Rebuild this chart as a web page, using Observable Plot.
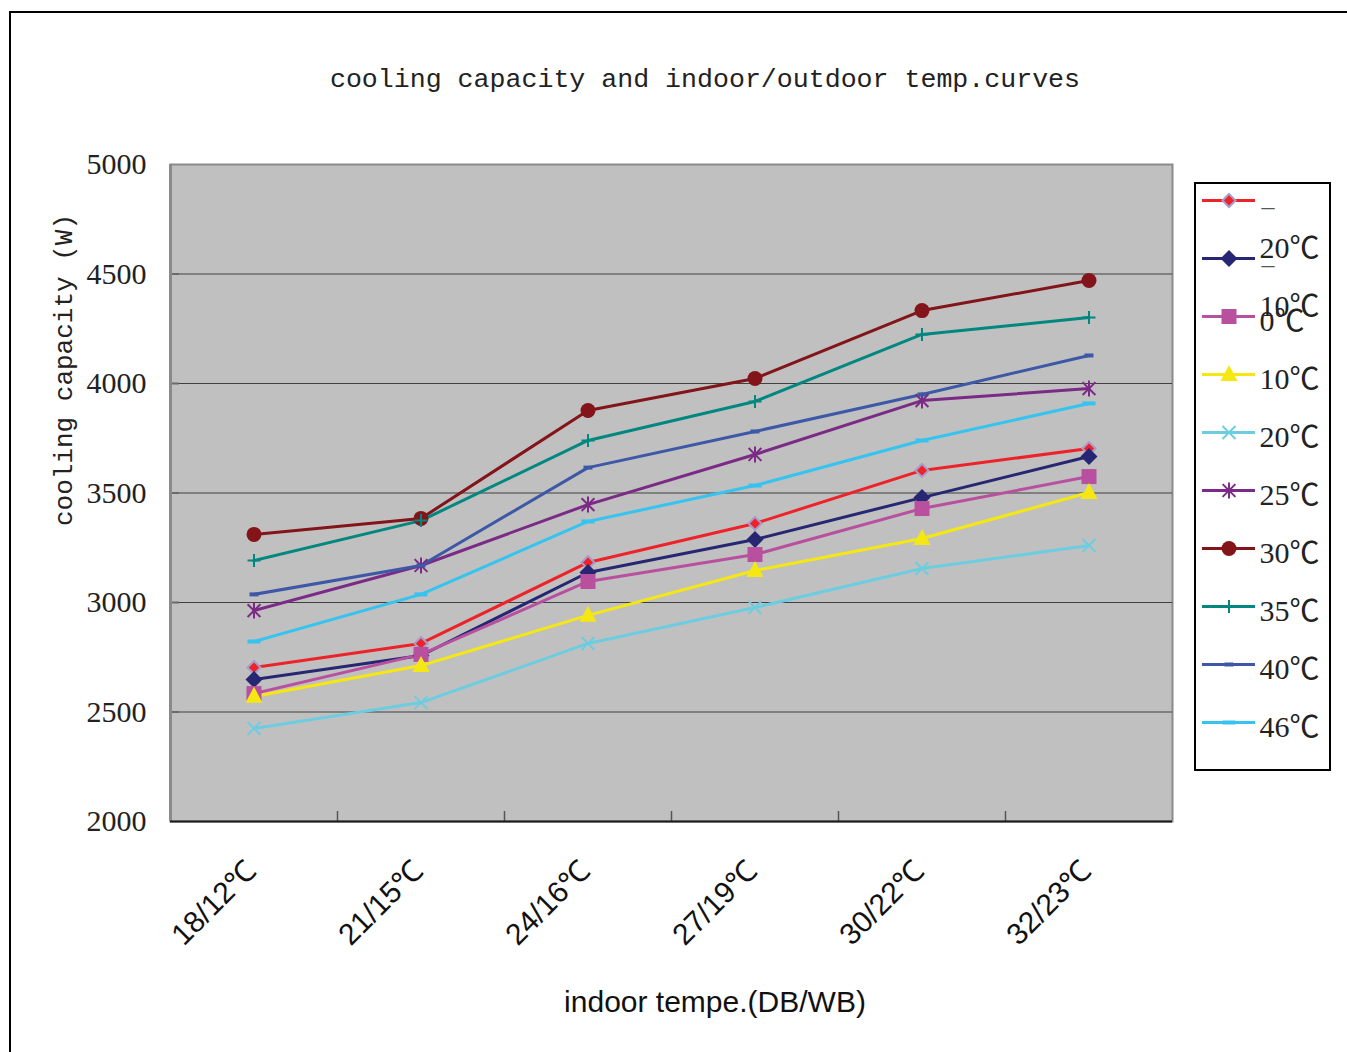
<!DOCTYPE html>
<html>
<head>
<meta charset="utf-8">
<script src="https://cdn.jsdelivr.net/npm/d3@7"></script>
<script src="https://cdn.jsdelivr.net/npm/@observablehq/plot@0.6"></script>
<style>
  html, body { margin: 0; padding: 0; background: #fff; overflow: hidden; }
  #root { position: relative; width: 1347px; height: 1052px; overflow: hidden; background: #fff; }
  #outer { position: absolute; left: 9px; top: 11px; width: 1400px; height: 1100px; border: 2px solid #000; box-sizing: border-box; }
  #title { position: absolute; left: 0; width: 1410px; top: 65px; text-align: center; font-family: "Liberation Mono", monospace; font-size: 26.6px; color: #222; white-space: pre; }
  #ytitle { position: absolute; left: 65px; top: 370px; transform: translate(-50%, -50%) rotate(-90deg); font-family: "Liberation Mono", monospace; font-size: 26px; color: #222; white-space: pre; }
  #xtitle { position: absolute; left: 715px; top: 1002px; transform: translate(-50%, -50%); font-family: "Liberation Sans", Arial, sans-serif; font-size: 30px; color: #111; white-space: pre; }
  #chart { position: absolute; left: 0; top: 0; }
  #legend { position: absolute; left: 1194px; top: 182px; border: 2px solid #000; background: #fff; width: 137px; height: 589px; box-sizing: border-box; }
  #legend svg { position: absolute; left: 0; top: 0; max-width: none !important; }
</style>
</head>
<body>
<div id="root">
  <div id="outer"></div>
  <div id="chart"></div>
  <div id="title">cooling capacity and indoor/outdoor temp.curves</div>
  <div id="ytitle">cooling capacity (W)</div>
  <div id="xtitle">indoor tempe.(DB/WB)</div>
  <div id="legend"></div>
</div>
<script>
// ---- data ----
const categories = ["18/12℃", "21/15℃", "24/16℃", "27/19℃", "30/22℃", "32/23℃"];
const seriesNames = ["-20℃", "-10℃", "0℃", "10℃", "20℃", "25℃", "30℃", "35℃", "40℃", "46℃"];
const sMinus20 = [2703, 2813, 3183, 3361, 3603, 3703];
const sMinus10 = [2648, 2758, 3137, 3288, 3479, 3667];
const s0       = [2584, 2763, 3096, 3219, 3429, 3575];
const s10      = [2571, 2712, 2941, 3146, 3292, 3502];
const s20      = [2425, 2543, 2813, 2977, 3155, 3260];
const s25      = [2963, 3169, 3447, 3676, 3922, 3977];
const s30      = [3311, 3384, 3877, 4023, 4333, 4470];
const s35      = [3192, 3374, 3740, 3918, 4224, 4301];
const s40      = [3037, 3169, 3616, 3781, 3950, 4128];
const s46      = [2822, 3037, 3370, 3534, 3740, 3909];
const yTicks = [2000, 2500, 3000, 3500, 4000, 4500, 5000];

// ---- styles ----
const seriesValues = [sMinus20, sMinus10, s0, s10, s20, s25, s30, s35, s40, s46];
const colors = ["#EE2229", "#262673", "#B9509F", "#F5E812", "#6DCDE0", "#7B2A85", "#82141A", "#00877F", "#3E58A8", "#35C3F0"];

const sym = {
  diamond: a => ({draw(c){ c.moveTo(0,-a); c.lineTo(a,0); c.lineTo(0,a); c.lineTo(-a,0); c.closePath(); }}),
  square: a => ({draw(c){ c.rect(-a/2,-a/2,a,a); }}),
  triangle: (w,h) => ({draw(c){ c.moveTo(0,-h*0.6); c.lineTo(w/2,h*0.4); c.lineTo(-w/2,h*0.4); c.closePath(); }}),
  times: a => ({draw(c){ c.moveTo(-a,-a); c.lineTo(a,a); c.moveTo(a,-a); c.lineTo(-a,a); }}),
  plus: a => ({draw(c){ c.moveTo(-a,0); c.lineTo(a,0); c.moveTo(0,-a); c.lineTo(0,a); }}),
  asterisk: a => ({draw(c){ c.moveTo(0,-a); c.lineTo(0,a); c.moveTo(-a*0.8,-a*0.8); c.lineTo(a*0.8,a*0.8); c.moveTo(a*0.8,-a*0.8); c.lineTo(-a*0.8,a*0.8); }}),
  circle: r => ({draw(c){ c.moveTo(r,0); c.arc(0,0,r,0,2*Math.PI); }}),
  rect: (w,h) => ({draw(c){ c.rect(-w/2,-h/2,w,h); }})
};
const markers = [
  {symbol: sym.diamond(6.5), fill: "#EE2229", stroke: "#A99BC9", strokeWidth: 2},
  {symbol: sym.diamond(8.5), fill: "#262673", stroke: "none"},
  {symbol: sym.square(15), fill: "#B9509F", stroke: "none"},
  {symbol: sym.triangle(17, 16), fill: "#F5E812", stroke: "none"},
  {symbol: sym.times(6.5), fill: "none", stroke: "#6DCDE0", strokeWidth: 2},
  {symbol: sym.asterisk(8), fill: "none", stroke: "#7B2A85", strokeWidth: 2},
  {symbol: sym.circle(7.5), fill: "#82141A", stroke: "none"},
  {symbol: sym.plus(6.5), fill: "none", stroke: "#00877F", strokeWidth: 2},
  {symbol: sym.rect(9, 4), fill: "#3E58A8", stroke: "none"},
  {symbol: sym.rect(13, 4), fill: "#35C3F0", stroke: "none"}
];

const rows = [];
seriesNames.forEach((s, k) => seriesValues[k].forEach((v, i) => rows.push({series: s, k, cat: categories[i], i, v})));

const noText = () => "";
const marks = [
  Plot.frame({fill: "#C0C0C0", stroke: "#8A8A8A", strokeWidth: 2}),
  Plot.ruleY(yTicks.slice(1, -1), {stroke: "#404040", strokeWidth: 1.2}),
  Plot.axisY({ticks: yTicks.slice(1, -1), tickSize: -9, tickFormat: noText, label: null, stroke: "#6a6a6a", strokeWidth: 2}),
  Plot.axisX({ticks: d3.range(categories.length - 1).map(i => i + 0.5), tickSize: -10, tickFormat: noText, label: null, stroke: "#555", strokeWidth: 1.5}),
  Plot.ruleX([-0.5], {stroke: "#8A8A8A", strokeWidth: 3}),
  Plot.ruleY([2000], {stroke: "#1a1a1a", strokeWidth: 2}),
  Plot.text(yTicks, {x: -0.5, y: d => d, text: d => String(d), textAnchor: "end", dx: -24, fontSize: 30, fontFamily: "Liberation Serif, serif", fill: "#222"}),
  Plot.text(categories, {x: (d, i) => i, frameAnchor: "bottom", text: d => d, rotate: -45, textAnchor: "end", dx: 4, dy: 51, fontSize: 30, fontFamily: "Liberation Sans, Arial, sans-serif", fill: "#111"})
];
seriesNames.forEach((s, k) => {
  const data = rows.filter(r => r.k === k);
  marks.push(Plot.line(data, {x: "i", y: "v", stroke: colors[k], strokeWidth: 3}));
});
seriesNames.forEach((s, k) => {
  const data = rows.filter(r => r.k === k);
  const m = markers[k];
  marks.push(Plot.dot(data, {x: "i", y: "v", symbol: m.symbol, r: 5, fill: m.fill, stroke: m.stroke, strokeWidth: m.strokeWidth || 1}));
});

const chart = Plot.plot({
  width: 1347, height: 1052,
  marginLeft: 170, marginRight: 175, marginTop: 164, marginBottom: 231,
  x: {domain: [-0.5, categories.length - 0.5], axis: null},
  y: {domain: [2000, 5000], axis: null},
  style: {background: "transparent", overflow: "visible"},
  marks
});
document.getElementById("chart").appendChild(chart);

// ---- legend ----
const legRows = seriesNames.map((s, k) => ({s, k}));
const wrapped = legRows.filter(d => d.s.startsWith("-"));
const plain = legRows.filter(d => !d.s.startsWith("-"));
const legFont = "Liberation Serif, 'Noto Sans CJK SC', serif";
const legMarks = [
  Plot.ruleY(legRows, {y: "s", x1: 0, x2: 1, stroke: d => colors[d.k], strokeWidth: 3})
];
legRows.forEach(d => {
  const m = markers[d.k];
  legMarks.push(Plot.dot([d], {y: "s", x: 0.5, symbol: m.symbol, r: 5, fill: m.fill, stroke: m.stroke, strokeWidth: m.strokeWidth || 1}));
});
// a leading minus wraps onto its own line, the rest of the label drops to the next line
legMarks.push(Plot.text(wrapped, {y: "s", x: 1, text: d => "–", textAnchor: "start", dx: 6, dy: 6, fontSize: 26, fontFamily: legFont, fill: "#555"}));
legMarks.push(Plot.text(wrapped, {y: "s", x: 1, text: d => d.s.replace(/^-/, ""), textAnchor: "start", dx: 4, dy: 48, fontSize: 30, fontFamily: legFont, fill: "#222"}));
legMarks.push(Plot.text(plain, {y: "s", x: 1, text: "s", textAnchor: "start", dx: 4, dy: 5, fontSize: 30, fontFamily: legFont, fill: "#222"}));

const legend = Plot.plot({
  width: 133, height: 585,
  margin: 0,
  x: {domain: [0, 1], range: [6, 59], axis: null},
  y: {type: "point", domain: seriesNames, range: [12, 541], padding: 0, axis: null},
  style: {background: "transparent", overflow: "visible"},
  marks: legMarks
});
document.getElementById("legend").appendChild(legend);
</script>
</body>
</html>
